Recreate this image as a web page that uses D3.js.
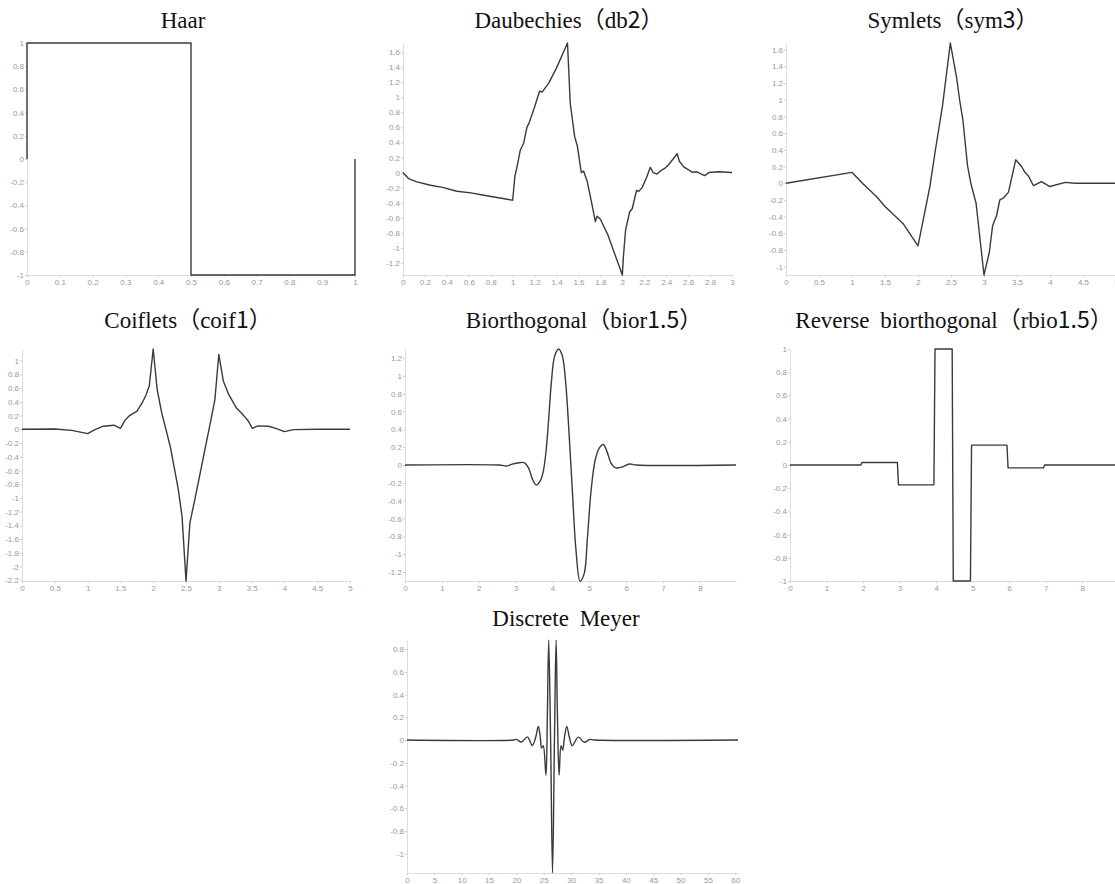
<!DOCTYPE html>
<meta charset="utf-8">
<script src="https://d3js.org/d3.v7.min.js"></script>
<style>
  body { margin: 0; background: #fff; }
  .tick text { font-family: "Liberation Sans", Arial, sans-serif; font-size: 8px; fill: #999; }
  .tick line { stroke: #ccc; }
  .domain { stroke: #ddd; }
</style>
<div id="chart"></div>
<script>

// wavelet functions psi(x), points as [x, y]
const haar = [[0,0],[0,1],[0.5,1],[0.5,-1],[1,-1],[1,0]];

const db2 = [[0,0],[0.05,-0.08],[0.12,-0.12],[0.24,-0.165],[0.37,-0.2],[0.49,-0.248],[0.62,-0.27],
  [0.75,-0.305],[0.87,-0.335],[1.0,-0.367],[1.02,-0.05],[1.04,0.08],[1.07,0.3],[1.1,0.39],[1.13,0.6],
  [1.15,0.66],[1.2,0.87],[1.245,1.08],[1.27,1.07],[1.33,1.19],[1.4,1.39],[1.5,1.72],[1.525,0.92],
  [1.565,0.48],[1.59,0.35],[1.626,0.0],[1.647,0.02],[1.68,-0.12],[1.72,-0.4],[1.754,-0.65],[1.77,-0.58],
  [1.8,-0.62],[1.866,-0.82],[2.0,-1.36],[2.01,-1.11],[2.03,-0.76],[2.067,-0.52],[2.09,-0.48],[2.13,-0.235],
  [2.15,-0.25],[2.18,-0.2],[2.22,-0.07],[2.255,0.07],[2.28,0.0],[2.316,-0.02],[2.355,0.03],[2.39,0.06],
  [2.42,0.1],[2.5,0.25],[2.52,0.15],[2.56,0.075],[2.6,0.04],[2.635,0.005],[2.68,0.01],[2.75,-0.04],
  [2.79,0.0],[2.88,0.01],[3.0,0.0]];

const sym3 = [[0,0],[1.0,0.13],[1.17,-0.01],[1.37,-0.16],[1.5,-0.28],[1.78,-0.49],[2.0,-0.75],[2.18,-0.04],
  [2.26,0.38],[2.37,0.92],[2.49,1.68],[2.59,1.24],[2.63,1.0],[2.68,0.76],[2.75,0.21],[2.8,0.0],[2.88,-0.24],
  [3.0,-1.1],[3.08,-0.83],[3.13,-0.51],[3.19,-0.39],[3.24,-0.2],[3.29,-0.18],[3.37,-0.11],[3.48,0.28],
  [3.57,0.2],[3.62,0.13],[3.67,0.09],[3.75,-0.03],[3.87,0.02],[4.0,-0.04],[4.23,0.01],[4.38,0],[5,0]];

const coif1 = [[0,0],[0.5,0.005],[0.76,-0.015],[1.0,-0.063],[1.12,0],[1.24,0.045],[1.4,0.06],[1.5,0.015],
  [1.57,0.13],[1.64,0.2],[1.75,0.26],[1.83,0.38],[1.89,0.5],[1.94,0.63],[2.0,1.17],[2.06,0.58],[2.13,0.24],
  [2.26,-0.25],[2.38,-0.86],[2.44,-1.27],[2.5,-2.21],[2.56,-1.36],[2.64,-1.0],[2.87,0.09],[2.94,0.43],
  [3.0,1.09],[3.07,0.7],[3.15,0.51],[3.27,0.31],[3.38,0.2],[3.45,0.12],[3.51,0.015],[3.6,0.05],[3.76,0.045],
  [3.88,0.01],[4.0,-0.034],[4.14,-0.005],[4.5,0],[5,0]];

const bior15 = [[0,0],[2.55,0],[2.77,-0.01],[2.91,0.01],[3.05,0.022],[3.23,0.026],[3.36,-0.04],[3.45,-0.15],
  [3.56,-0.225],[3.68,-0.17],[3.75,-0.075],[3.82,0.13],[3.89,0.47],[3.97,0.92],[4.06,1.22],[4.17,1.3],
  [4.27,1.22],[4.36,0.92],[4.45,0.36],[4.55,-0.36],[4.64,-0.96],[4.75,-1.3],[4.86,-1.22],[4.95,-0.81],
  [5.05,-0.28],[5.16,0.056],[5.27,0.19],[5.38,0.23],[5.48,0.15],[5.59,0.02],[5.7,-0.03],[5.86,-0.026],
  [6.09,0.011],[6.27,0],[8.98,0]];

const rbio15 = [[0,0],[1.94,0],[1.97,0.022],[2.94,0.022],[2.97,-0.171],[3.94,-0.171],[3.97,1],[4.44,1],
  [4.47,-1],[4.94,-1],[4.97,0.171],[5.94,0.171],[5.97,-0.025],[6.94,-0.025],[6.97,0],[8.98,0]];

const dmey = [[0,0],[19.5,0],[20.0,0.006],[20.9,-0.018],[22.0,0.028],[22.9,-0.048],[23.5,0.02],[24.0,0.12],
  [24.35,0.03],[24.6,-0.07],[24.9,-0.05],[25.4,-0.31],[25.65,0.2],[25.9,0.88],[26.25,0.0],[26.6,-1.17],
  [26.95,0.0],[27.25,0.88],[27.5,0.2],[27.8,-0.31],[28.15,-0.05],[28.45,-0.09],[28.8,0.03],[29.2,0.12],
  [29.7,0.02],[30.2,-0.05],[31.3,0.025],[32.4,-0.02],[33.4,0.005],[34.2,0],[60.5,0]];

const titles = ["Haar", "Daubechies（db2）", "Symlets（sym3）", "Coiflets（coif1）",
  "Biorthogonal（bior1.5）", "Reverse biorthogonal（rbio1.5）", "Discrete Meyer"];

// where each small chart sits on the page
const panels = [
  {data: haar,   left: 27,  right: 355,  top: 43,  bottom: 275, tx: 183, ty: 28},
  {data: db2,    left: 403, right: 732,  top: 43,  bottom: 275, tx: 569, ty: 28},
  {data: sym3,   left: 786, right: 1116, top: 43,  bottom: 275, tx: 953, ty: 28},
  {data: coif1,  left: 22,  right: 350,  top: 349, bottom: 581, tx: 188, ty: 328},
  {data: bior15, left: 405, right: 736,  top: 349, bottom: 581, tx: 584, ty: 328, smooth: true},
  {data: rbio15, left: 790, right: 1118, top: 349, bottom: 581, tx: 954, ty: 328},
  {data: dmey,   left: 407, right: 738,  top: 640, bottom: 873, tx: 566, ty: 626, smooth: true}
];

const svg = d3.select("#chart")
  .append("svg")
    .attr("width", 1115)
    .attr("height", 884);

panels.forEach(function(p, i) {

  const x = d3.scaleLinear()
    .domain(d3.extent(p.data, d => d[0]))
    .range([p.left, p.right]);
  const y = d3.scaleLinear()
    .domain(d3.extent(p.data, d => d[1]))
    .range([p.bottom, p.top]);

  const fmt = d => String(+d.toFixed(2));

  svg.append("g")
    .attr("transform", `translate(0,${p.bottom})`)
    .call(d3.axisBottom(x).ticks(10).tickSize(2).tickSizeOuter(0).tickPadding(2).tickFormat(fmt));

  svg.append("g")
    .attr("transform", `translate(${p.left},0)`)
    .call(d3.axisLeft(y).ticks(12).tickSize(2).tickSizeOuter(0).tickPadding(1).tickFormat(fmt));

  const line = d3.line()
    .x(d => x(d[0]))
    .y(d => y(d[1]))
    .curve(p.smooth ? d3.curveCatmullRom.alpha(0.5) : d3.curveLinear);

  svg.append("path")
    .datum(p.data)
    .attr("fill", "none")
    .attr("stroke", "#3a3a3a")
    .attr("stroke-width", 1.4)
    .attr("stroke-linejoin", "round")
    .attr("d", line);

  // title: latin in serif, digits and full-width brackets from the CJK font
  const t = svg.append("text")
    .attr("x", p.tx)
    .attr("y", p.ty)
    .attr("text-anchor", "middle")
    .style("font-family", "'Liberation Serif', 'Noto Sans CJK SC', serif")
    .style("font-size", "23px")
    .style("word-spacing", "5px")
    .style("fill", "#111");
  titles[i].split(/([0-9.]+)/).forEach(function(part) {
    if (!part) return;
    t.append("tspan")
      .style("font-family", /^[0-9.]+$/.test(part) ? "'Noto Sans CJK SC', sans-serif" : null)
      .text(part);
  });
});

</script>
